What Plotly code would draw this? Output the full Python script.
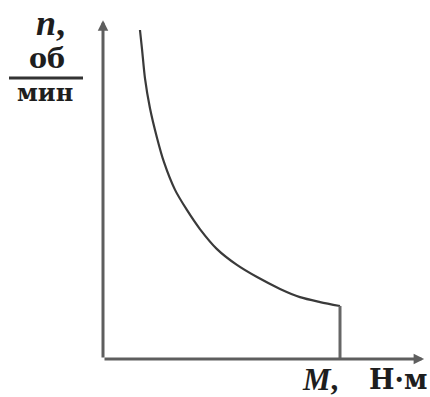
import plotly.graph_objects as go

# Data (arbitrary units: M torque, n speed)
M_curve = [15.6, 16.5, 17.7, 19.8, 22.8, 25.7, 30.4, 35.4, 40.9, 48.1, 56.5,
           65.0, 74.7, 83.1, 91.6, 100.0]
n_curve = [100.0, 93.9, 85.4, 76.3, 67.2, 59.9, 51.4, 45.3, 39.5, 33.4, 28.6,
           24.9, 21.3, 18.8, 17.3, 16.1]
M_drop = [100.0, 100.0]
n_drop = [16.1, 0.0]
M_axis_end = 135.5
n_axis_end = 103.0

W, H = 430, 397
x0_px, y0_px = 103, 359
sx, sy = 2.37, 3.29
x_range = [-x0_px / sx, (W - x0_px) / sx]
y_range = [-(H - y0_px) / sy, y0_px / sy]

fig = go.Figure()
fig.add_trace(go.Scatter(x=M_curve, y=n_curve, mode="lines",
                         line=dict(color="#3a3a3a", width=2.2, shape="spline", smoothing=0.8),
                         hoverinfo="skip"))
fig.add_trace(go.Scatter(x=M_drop, y=n_drop, mode="lines",
                         line=dict(color="#666666", width=3), hoverinfo="skip"))

axis_color = "#5e5e5e"
# axes with arrows
fig.add_annotation(x=M_axis_end, y=0, ax=0, ay=0, xref="x", yref="y", axref="x", ayref="y",
                   showarrow=True, arrowhead=2, arrowsize=0.7, arrowwidth=3,
                   arrowcolor=axis_color, text="")
fig.add_annotation(x=0, y=n_axis_end, ax=0, ay=0, xref="x", yref="y", axref="x", ayref="y",
                   showarrow=True, arrowhead=2, arrowsize=0.7, arrowwidth=3,
                   arrowcolor=axis_color, text="")

serif = "Liberation Serif, Times New Roman, serif"
wide_serif = "DejaVu Serif, serif"
txt = "#1e1e1e"


def px_label(text, x_px, y_px, size, family, xanchor="left"):
    fig.add_annotation(x=x_px / W, y=1 - y_px / H, xref="paper", yref="paper",
                       text=text, showarrow=False,
                       font=dict(family=family, size=size, color=txt),
                       xanchor=xanchor, yanchor="middle")


# y label
px_label("<b><i>n</i>,</b>", 34, 23, 36, serif)
px_label("<b>об</b>", 47, 59, 27, wide_serif, xanchor="center")
px_label("<b>мин</b>", 45, 92, 24, wide_serif, xanchor="center")
fig.add_shape(type="line", xref="paper", yref="paper",
              x0=9 / W, x1=83 / W, y0=1 - 78 / H, y1=1 - 78 / H,
              line=dict(color="#333", width=3))
# x label
px_label("<b><i>M</i>,</b>", 300, 379, 31, serif)
px_label("<b>Н·м</b>", 429, 379, 27, wide_serif, xanchor="right")

fig.update_xaxes(range=x_range, visible=False)
fig.update_yaxes(range=y_range, visible=False)
fig.update_layout(width=W, height=H, margin=dict(l=0, r=0, t=0, b=0),
                  plot_bgcolor="white", paper_bgcolor="white", showlegend=False)
fig.write_html("out.html", config={"displayModeBar": False},
               post_script="document.body.style.margin='0';")
